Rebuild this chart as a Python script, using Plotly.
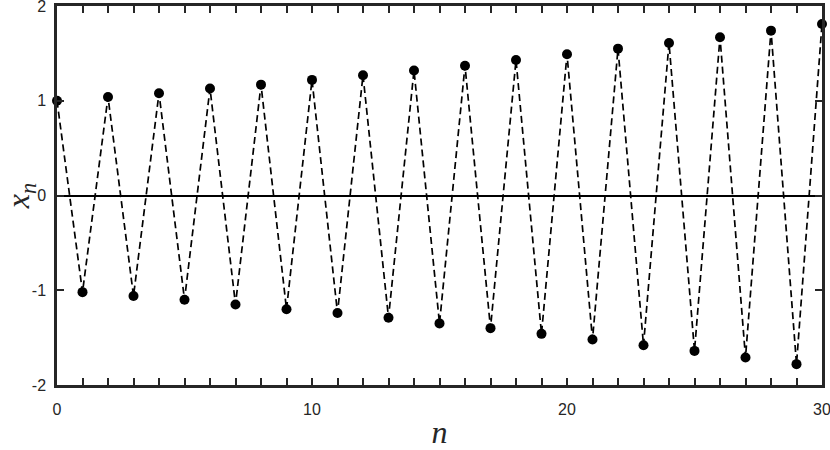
import plotly.graph_objects as go

# data
n = list(range(31))
x_n = [1.00, -1.02, 1.04, -1.06, 1.08, -1.10, 1.13, -1.15, 1.17, -1.20,
       1.22, -1.24, 1.27, -1.29, 1.32, -1.35, 1.37, -1.40, 1.43, -1.46,
       1.49, -1.52, 1.55, -1.58, 1.61, -1.64, 1.67, -1.71, 1.74, -1.78,
       1.81]

x_ticks = [0, 10, 20, 30]
y_ticks = [-2, -1, 0, 1, 2]
y_labels = ["-2", "-1", "0", "1", "2"]

axis_col = "#262626"
tick_font = dict(family="Liberation Sans, Arial, sans-serif", size=16, color=axis_col)
title_font = dict(family="Liberation Serif, serif", size=32, color=axis_col)

fig = go.Figure()
fig.add_trace(go.Scatter(
    x=n, y=x_n, mode="lines+markers",
    line=dict(color="black", width=1.7, dash="7px,4px"),
    marker=dict(color="black", size=10),
    cliponaxis=False, showlegend=False,
))

fig.update_layout(
    width=830, height=450,
    margin=dict(l=57, r=8, t=6, b=65, autoexpand=False),
    plot_bgcolor="white", paper_bgcolor="white",
)
fig.update_xaxes(
    range=[0, 30], tickvals=x_ticks, ticks="inside", ticklen=7, tickwidth=2,
    tickcolor=axis_col, showline=True, linewidth=2.5, linecolor=axis_col,
    mirror="ticks", showgrid=False, zeroline=False, tickfont=tick_font,
    ticklabeloverflow="allow", automargin=False, ticklabelstandoff=8,
    minor=dict(dtick=1, ticks="inside", ticklen=7, tickwidth=2, tickcolor=axis_col, showgrid=False),
    title=dict(text="<i>n</i>", font=title_font, standoff=12),
)
fig.update_yaxes(
    range=[-2, 2], tickvals=y_ticks, ticktext=y_labels, ticks="inside", ticklen=7,
    tickwidth=2, tickcolor=axis_col, showline=True, linewidth=2.5, linecolor=axis_col,
    mirror="ticks", showgrid=False, zeroline=True, zerolinecolor="black",
    zerolinewidth=2, tickfont=tick_font,
    ticklabeloverflow="allow", automargin=False, ticklabelstandoff=5,
    title=dict(text="<i>x<sub>n</sub></i>", font=title_font, standoff=8),
)

fig.write_html("out.html", config={"displayModeBar": False},
               post_script="document.body.style.margin='0';")
